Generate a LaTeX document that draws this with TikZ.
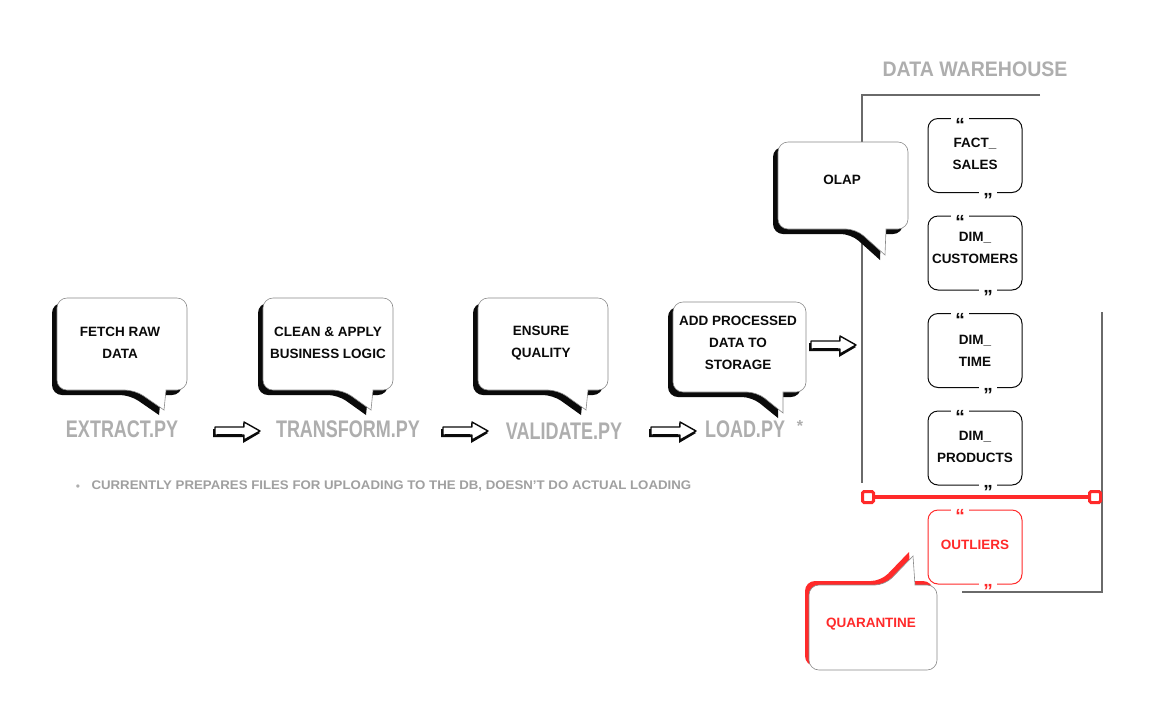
\documentclass[tikz,border=0pt]{standalone}
\usepackage{fontspec}
\setmainfont{Liberation Sans}
\newfontfamily\condfont{Liberation Sans}[FakeStretch=0.75]
\newfontfamily\titlefont{Liberation Sans}[FakeStretch=0.93]
\newfontfamily\footfont{Liberation Sans}[FakeStretch=1.06]
\definecolor{lbl}{HTML}{AEAEAE}
\definecolor{ink}{HTML}{0A0A0A}
\definecolor{rd}{HTML}{FF2A2A}
\definecolor{ln}{HTML}{6A6A6A}
\definecolor{bord}{HTML}{8A8A8A}
% path of a speech bubble: L T R B tailL tailR tipx tipy
\newcommand\bpath[8]{(#6,#4) [rounded corners=10pt] -- (#3,#4) -- (#3,#2) -- (#1,#2) -- (#1,#4) -- (#5,#4) [sharp corners] -- (#7,#8) -- cycle}
% hand-drawn style block arrow starting at a named coordinate
\newcommand\fatarr[1]{%
  \fill[ink] ([shift={(-1,-3)}]#1) -- ++(30,0) -- ++(0,-6) -- ++(17,10) -- ++(-17,10) -- ++(0,-6) -- ++(-30,0) -- cycle;
  \filldraw[fill=white, draw=ink, line width=1.4, line join=round]
    ([shift={(1,-5)}]#1) -- ++(29,0) -- ++(0,-5) -- ++(16,9) -- ++(-16,9) -- ++(0,-5) -- ++(-29,0) -- cycle;
  \draw[ink, line width=2.2] ([shift={(3,3)}]#1) -- ++(25,0);
}
% quote mark sitting in a gap of a box edge: anchor, x offset, glyph, colour
\newcommand\qm[4]{%
  \fill[white] ([shift={(#2-9,-3)}]#1) rectangle ([shift={(#2+9,3)}]#1);
  \node[qmark, text=#4] at ([shift={(#2,13.2)}]#1) {#3};
}
\tikzset{
  btext/.style={font=\bfseries\fontsize{13.5}{22}\selectfont, align=center, text=ink},
  pylbl/.style={font=\condfont\bfseries\fontsize{24}{26}\selectfont, text=lbl},
  tbl/.style={draw=ink, line width=1, rounded corners=10pt, minimum width=94pt, minimum height=74pt},
  tbltext/.style={align=center, font=\bfseries\fontsize{13.5}{22}\selectfont, text=ink},
  qmark/.style={anchor=base, inner sep=0pt, font=\bfseries\fontsize{19}{19}\selectfont},
  guide/.style={draw=ln, line width=1.2},
  endsq/.style={draw=rd, line width=3, fill=white, minimum size=11pt, inner sep=0pt, rounded corners=1.5pt},
  bubblefill/.style={fill=white, draw=bord, line width=0.6},
}
\begin{document}
\begin{tikzpicture}[x=1pt,y=-1pt]
\useasboundingbox (0,0) rectangle (1168,716);
\fill[white] (0,0) rectangle (1168,716);

% warehouse guide lines
\coordinate (wt1) at (1040,95);
\coordinate (wt0) at (862,95);
\coordinate (wb0) at (862,483);
\draw[guide] (wt1) -- (wt0) -- (wb0);
\coordinate (rt) at (1102,312);
\coordinate (rb) at (1102,592);
\coordinate (rb0) at (962,592);
\draw[guide] (rt) -- (rb) -- (rb0);

\node[font=\titlefont\bfseries\fontsize{21}{24}\selectfont, text=lbl] (dwh) at (975,69) {DATA WAREHOUSE};

% tables
\node[tbl] (fs) at (975,155.5) {};
\node[tbl] (dc) at (975,253) {};
\node[tbl] (dt) at (975,350.5) {};
\node[tbl] (dp) at (975,448) {};
\node[tbl, draw=rd] (ol) at (975,547) {};
\node[tbltext] (fst) at (975,154) {FACT\_\\SALES};
\node[tbltext] (dct) at (975,248) {DIM\_\\CUSTOMERS};
\node[tbltext] (dtt) at (975,351) {DIM\_\\TIME};
\node[tbltext] (dpt) at (975,447) {DIM\_\\PRODUCTS};
\node[tbltext, text=rd] (olt) at (975,545) {OUTLIERS};
\foreach \t in {fs,dc,dt,dp}{
  \qm{\t.north}{-15}{“}{ink}
  \qm{\t.south}{13}{”}{ink}
}
\qm{ol.north}{-15}{“}{rd}
\qm{ol.south}{13}{”}{rd}

% red separator
\node[endsq] (sl) at (868,497) {};
\node[endsq] (sr) at (1095,497) {};
\draw[rd, line width=3.5] (sl) -- (sr);

% speech bubbles (shadow + body)
\begin{scope}[shift={(-5,5)}]
  \fill[ink] \bpath{57}{298}{187}{390}{135}{166}{164}{410};
  \fill[ink] \bpath{263}{298}{393}{390}{343}{373}{371}{410};
  \fill[ink] \bpath{478}{298}{608}{390}{558}{588}{586}{410};
  \fill[ink] \bpath{673}{302}{806}{392}{757}{783}{783}{413};
  \fill[ink] \bpath{778}{142}{908}{229}{856}{886}{885}{255};
\end{scope}
\filldraw[bubblefill] \bpath{57}{298}{187}{390}{135}{166}{164}{410};
\filldraw[bubblefill] \bpath{263}{298}{393}{390}{343}{373}{371}{410};
\filldraw[bubblefill] \bpath{478}{298}{608}{390}{558}{588}{586}{410};
\filldraw[bubblefill] \bpath{673}{302}{806}{392}{757}{783}{783}{413};
\filldraw[bubblefill] \bpath{778}{142}{908}{229}{856}{886}{885}{255};
\begin{scope}[shift={(-4,-4)}]
  \fill[rd] \bpath{809}{670}{937}{585}{885}{915}{913}{556};
\end{scope}
\filldraw[bubblefill] \bpath{809}{670}{937}{585}{885}{915}{913}{556};

\node[btext] (b1) at (120,343) {FETCH RAW\\DATA};
\node[btext] (b2) at (328,343) {CLEAN \& APPLY\\BUSINESS LOGIC};
\node[btext] (b3) at (541,343) {ENSURE\\QUALITY};
\node[btext] (b4) at (738,343) {ADD PROCESSED\\DATA TO\\STORAGE};
\node[btext] (b5) at (842,180) {OLAP};
\node[btext, text=rd] (b6) at (871,624) {QUARANTINE};

% script labels
\node[pylbl] (ex) at (122,429) {EXTRACT.PY};
\node[pylbl] (tr) at (348,429) {TRANSFORM.PY};
\node[pylbl] (va) at (564,431) {VALIDATE.PY};
\node[pylbl] (lo) at (745,429) {LOAD.PY};
\node[text=lbl, font=\bfseries\fontsize{16}{16}\selectfont] (ast) at (800,426) {*};

% fat arrows
\coordinate (a1) at (214,432);
\coordinate (a2) at (442,432);
\coordinate (a3) at (650,432);
\coordinate (a4) at (810,346);
\fatarr{a1}
\fatarr{a2}
\fatarr{a3}
\fatarr{a4}

% footnote
\node[text=lbl, font=\fontsize{12}{14}\selectfont] (dot) at (78,488) {•};
\node[anchor=west, text=lbl!92!black, font=\footfont\bfseries\fontsize{12.5}{14}\selectfont] (fn) at (88,486)
  {CURRENTLY PREPARES FILES FOR UPLOADING TO THE DB, DOESN’T DO ACTUAL LOADING};
\end{tikzpicture}
\end{document}
